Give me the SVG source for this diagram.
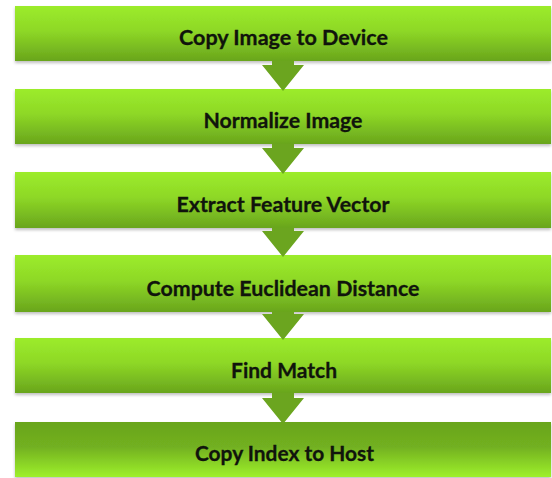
<svg xmlns="http://www.w3.org/2000/svg" width="552" height="478" viewBox="0 0 552 478">
<defs>
<linearGradient id="g" x1="0" y1="0" x2="0" y2="1">
<stop offset="0" stop-color="#9cec2c"/>
<stop offset="0.45" stop-color="#8ed826"/>
<stop offset="1" stop-color="#69a51d"/>
</linearGradient>
<linearGradient id="gr" x1="0" y1="0" x2="0" y2="1">
<stop offset="0" stop-color="#69a51d"/>
<stop offset="0.45" stop-color="#72b020"/>
<stop offset="1" stop-color="#9ef02c"/>
</linearGradient>
<filter id="sh" x="-5%" y="-20%" width="110%" height="150%">
<feDropShadow dx="0" dy="2" stdDeviation="1.5" flood-color="#000" flood-opacity="0.25"/>
</filter>
</defs>
<style>
.box{fill:url(#g);filter:url(#sh);}
.box.last{fill:url(#gr);}
.lbl{font-family:Lato,"Liberation Sans",sans-serif;font-weight:bold;font-size:21px;fill:#10140c;text-anchor:middle;stroke:#10140c;stroke-width:0.3;}
.arr{fill:#6ba51f;}
</style>
<g id="n1"><rect class="box" x="15" y="6" width="536" height="55"/><text class="lbl" x="283.5" y="45" textLength="209" lengthAdjust="spacingAndGlyphs">Copy Image to Device</text></g>
<g id="n2"><rect class="box" x="15" y="89" width="536" height="55"/><text class="lbl" x="283" y="128" textLength="159" lengthAdjust="spacingAndGlyphs">Normalize Image</text></g>
<g id="n3"><rect class="box" x="15" y="172" width="536" height="56"/><text class="lbl" x="283" y="212" textLength="213" lengthAdjust="spacingAndGlyphs">Extract Feature Vector</text></g>
<g id="n4"><rect class="box" x="15" y="255" width="536" height="57"/><text class="lbl" x="283" y="296" textLength="273" lengthAdjust="spacingAndGlyphs">Compute Euclidean Distance</text></g>
<g id="n5"><rect class="box" x="15" y="338" width="536" height="55"/><text class="lbl" x="284" y="378" textLength="106" lengthAdjust="spacingAndGlyphs">Find Match</text></g>
<g id="n6"><rect class="box last" x="15" y="422" width="536" height="55"/><text class="lbl" x="284.5" y="461" textLength="179" lengthAdjust="spacingAndGlyphs">Copy Index to Host</text></g>
<g id="connectors">
<path class="arr" d="M272 61 H294 V65 H304 L283 91 L262 65 H272 Z"/>
<path class="arr" d="M272 144 H294 V148 H304 L283 174 L262 148 H272 Z"/>
<path class="arr" d="M272 228 H294 V231 H304 L283 257 L262 231 H272 Z"/>
<path class="arr" d="M272 312 H294 V314 H304 L283 340 L262 314 H272 Z"/>
<path class="arr" d="M272 393 H294 V398 H304 L283 424 L262 398 H272 Z"/>
</g>
</svg>
